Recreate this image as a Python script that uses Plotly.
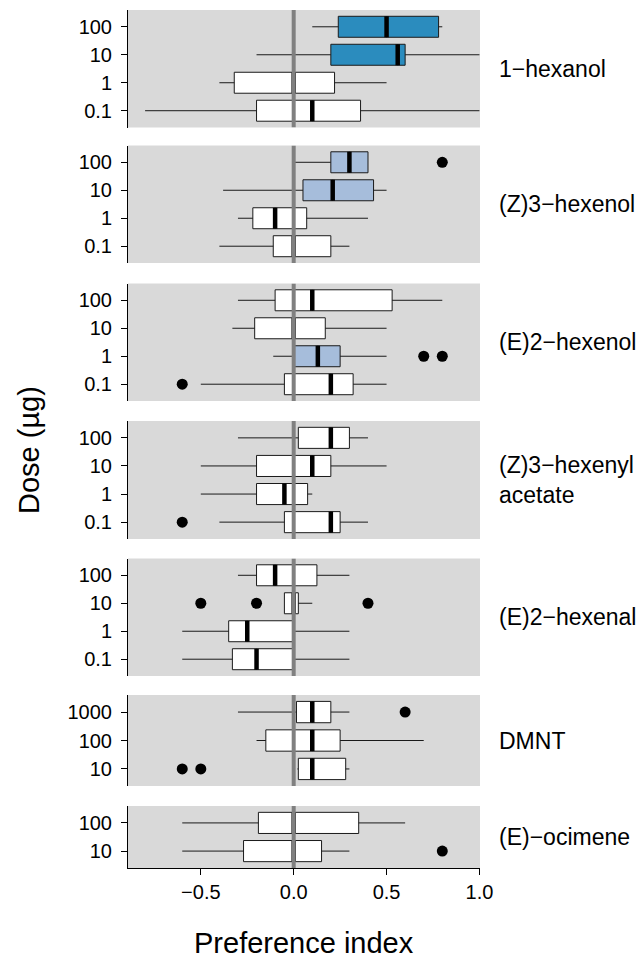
import plotly.graph_objects as go

# ---------------- data ----------------
compounds = ["1−hexanol", "(Z)3−hexenol", "(E)2−hexenol", "(Z)3−hexenyl<br>acetate",
             "(E)2−hexenal", "DMNT", "(E)−ocimene"]

# doses listed top-to-bottom as in the picture
hexanol_doses = ["100", "10", "1", "0.1"]
hexanol_lo = [0.10, -0.20, -0.40, -0.80]
hexanol_q1 = [0.24, 0.20, -0.32, -0.20]
hexanol_med = [0.50, 0.56, 0.00, 0.10]
hexanol_q3 = [0.78, 0.60, 0.22, 0.36]
hexanol_hi = [0.80, 1.00, 0.50, 1.00]
hexanol_sig = ["strong", "strong", "ns", "ns"]
hexanol_out_dose = []
hexanol_out_x = []

z3hexenol_doses = ["100", "10", "1", "0.1"]
z3hexenol_lo = [0.00, -0.38, -0.30, -0.40]
z3hexenol_q1 = [0.20, 0.05, -0.22, -0.11]
z3hexenol_med = [0.30, 0.21, -0.10, 0.00]
z3hexenol_q3 = [0.40, 0.43, 0.07, 0.20]
z3hexenol_hi = [0.40, 0.50, 0.40, 0.30]
z3hexenol_sig = ["weak", "weak", "ns", "ns"]
z3hexenol_out_dose = ["100"]
z3hexenol_out_x = [0.80]

e2hexenol_doses = ["100", "10", "1", "0.1"]
e2hexenol_lo = [-0.30, -0.33, -0.11, -0.50]
e2hexenol_q1 = [-0.10, -0.21, 0.00, -0.05]
e2hexenol_med = [0.10, 0.00, 0.13, 0.20]
e2hexenol_q3 = [0.53, 0.17, 0.25, 0.32]
e2hexenol_hi = [0.80, 0.50, 0.50, 0.50]
e2hexenol_sig = ["ns", "ns", "weak", "ns"]
e2hexenol_out_dose = ["1", "1", "0.1"]
e2hexenol_out_x = [0.70, 0.80, -0.60]

z3acetate_doses = ["100", "10", "1", "0.1"]
z3acetate_lo = [-0.30, -0.50, -0.50, -0.40]
z3acetate_q1 = [0.025, -0.20, -0.20, -0.05]
z3acetate_med = [0.20, 0.10, -0.05, 0.20]
z3acetate_q3 = [0.30, 0.20, 0.075, 0.25]
z3acetate_hi = [0.40, 0.50, 0.10, 0.40]
z3acetate_sig = ["ns", "ns", "ns", "ns"]
z3acetate_out_dose = ["0.1"]
z3acetate_out_x = [-0.60]

e2hexenal_doses = ["100", "10", "1", "0.1"]
e2hexenal_lo = [-0.30, -0.05, -0.60, -0.60]
e2hexenal_q1 = [-0.20, -0.05, -0.35, -0.33]
e2hexenal_med = [-0.10, 0.00, -0.25, -0.20]
e2hexenal_q3 = [0.125, 0.025, 0.00, 0.00]
e2hexenal_hi = [0.30, 0.10, 0.30, 0.30]
e2hexenal_sig = ["ns", "ns", "ns", "ns"]
e2hexenal_out_dose = ["10", "10", "10"]
e2hexenal_out_x = [-0.50, -0.20, 0.40]

dmnt_doses = ["1000", "100", "10"]
dmnt_lo = [-0.30, -0.20, 0.02]
dmnt_q1 = [0.015, -0.15, 0.025]
dmnt_med = [0.10, 0.10, 0.10]
dmnt_q3 = [0.20, 0.25, 0.28]
dmnt_hi = [0.30, 0.70, 0.30]
dmnt_sig = ["ns", "ns", "ns"]
dmnt_out_dose = ["1000", "10", "10"]
dmnt_out_x = [0.60, -0.60, -0.50]

ocimene_doses = ["100", "10"]
ocimene_lo = [-0.60, -0.60]
ocimene_q1 = [-0.19, -0.27]
ocimene_med = [0.00, 0.00]
ocimene_q3 = [0.35, 0.15]
ocimene_hi = [0.60, 0.30]
ocimene_sig = ["ns", "ns"]
ocimene_out_dose = ["10"]
ocimene_out_x = [0.80]

x_ticks = [-0.5, 0.0, 0.5, 1.0]
x_ticktext = ["−0.5", "0.0", "0.5", "1.0"]

# ---------------- assemble ----------------
panels = [
    (hexanol_doses, hexanol_lo, hexanol_q1, hexanol_med, hexanol_q3, hexanol_hi, hexanol_sig, hexanol_out_dose, hexanol_out_x),
    (z3hexenol_doses, z3hexenol_lo, z3hexenol_q1, z3hexenol_med, z3hexenol_q3, z3hexenol_hi, z3hexenol_sig, z3hexenol_out_dose, z3hexenol_out_x),
    (e2hexenol_doses, e2hexenol_lo, e2hexenol_q1, e2hexenol_med, e2hexenol_q3, e2hexenol_hi, e2hexenol_sig, e2hexenol_out_dose, e2hexenol_out_x),
    (z3acetate_doses, z3acetate_lo, z3acetate_q1, z3acetate_med, z3acetate_q3, z3acetate_hi, z3acetate_sig, z3acetate_out_dose, z3acetate_out_x),
    (e2hexenal_doses, e2hexenal_lo, e2hexenal_q1, e2hexenal_med, e2hexenal_q3, e2hexenal_hi, e2hexenal_sig, e2hexenal_out_dose, e2hexenal_out_x),
    (dmnt_doses, dmnt_lo, dmnt_q1, dmnt_med, dmnt_q3, dmnt_hi, dmnt_sig, dmnt_out_dose, dmnt_out_x),
    (ocimene_doses, ocimene_lo, ocimene_q1, ocimene_med, ocimene_q3, ocimene_hi, ocimene_sig, ocimene_out_dose, ocimene_out_x),
]

fill_map = {"strong": "#2B8CBE", "weak": "#A6BDDB", "ns": "#FFFFFF"}

W, H = 640, 963
ML, MR, MT, MB = 128, 160, 10, 95
plot_h = H - MT - MB
panel_px = [(10, 127.5), (145.5, 263), (283.5, 401), (421, 539),
            (558.5, 676), (695, 786), (806, 868)]


def frac(ypx):
    return (H - MB - ypx) / plot_h


FONT = "Liberation Sans, Arial, Helvetica, sans-serif"
BOXW = 0.75
fig = go.Figure()
layout_axes = {}
annotations = []

for k, (doses, lo, q1, med, q3, hi, sig, od, ox) in enumerate(panels, start=1):
    n = len(doses)
    pos = {d: n - i for i, d in enumerate(doses)}  # top gets highest position
    yref = "y" if k == 1 else f"y{k}"
    yname = "yaxis" if k == 1 else f"yaxis{k}"
    for i, d in enumerate(doses):
        fig.add_trace(go.Box(
            orientation="h", y=[pos[d]], q1=[q1[i]], median=[med[i]], q3=[q3[i]],
            lowerfence=[lo[i]], upperfence=[hi[i]],
            fillcolor=fill_map[sig[i]], line=dict(color="#1a1a1a", width=1),
            width=BOXW, whiskerwidth=0, boxpoints=False,
            xaxis="x", yaxis=yref, showlegend=False, hoverinfo="skip"))
    # thick medians
    mx, my = [], []
    for i, d in enumerate(doses):
        mx += [med[i], med[i], None]
        my += [pos[d] - BOXW / 2, pos[d] + BOXW / 2, None]
    fig.add_trace(go.Scatter(x=mx, y=my, mode="lines", line=dict(color="black", width=4.5),
                             xaxis="x", yaxis=yref, showlegend=False, hoverinfo="skip"))
    # outliers
    if ox:
        fig.add_trace(go.Scatter(x=ox, y=[pos[d] for d in od], mode="markers",
                                 marker=dict(color="black", size=11),
                                 xaxis="x", yaxis=yref, showlegend=False, hoverinfo="skip"))
    # zero reference line
    fig.add_trace(go.Scatter(x=[0, 0], y=[0.4, n + 0.6], mode="lines",
                             line=dict(color="#808080", width=4),
                             xaxis="x", yaxis=yref, showlegend=False, hoverinfo="skip"))
    top, bot = panel_px[k - 1]
    layout_axes[yname] = dict(
        domain=[frac(bot), frac(top)], anchor="x", range=[0.4, n + 0.6],
        tickvals=[pos[d] for d in doses], ticktext=doses,
        showline=True, linecolor="black", linewidth=1,
        ticks="outside", ticklen=6, tickcolor="black", tickwidth=1,
        ticklabelstandoff=5,
        tickfont=dict(family=FONT, size=20, color="black"),
        showgrid=False, zeroline=False, fixedrange=True)
    annotations.append(dict(
        text=compounds[k - 1], xref="paper", yref="paper", x=1, xshift=17,
        y=frac((top + bot) / 2), xanchor="left", yanchor="middle", align="left",
        showarrow=False, font=dict(family=FONT, size=23, color="black")))

annotations.append(dict(text="Preference index", xref="paper", yref="paper",
                        x=0.5, y=frac(943), xanchor="center", yanchor="middle",
                        showarrow=False, font=dict(family=FONT, size=29, color="black")))
annotations.append(dict(text="Dose (µg)", xref="paper", yref="paper",
                        x=(29 - ML) / (W - ML - MR), y=frac(450), textangle=-90,
                        xanchor="center", yanchor="middle",
                        showarrow=False, font=dict(family=FONT, size=29, color="black")))

fig.update_layout(
    width=W, height=H, margin=dict(l=ML, r=MR, t=MT, b=MB),
    paper_bgcolor="white", plot_bgcolor="#D9D9D9",
    boxmode="overlay", showlegend=False,
    xaxis=dict(domain=[0, 1], anchor="y7", range=[-0.892, 1.003],
               tickvals=x_ticks, ticktext=x_ticktext,
               showline=True, linecolor="black", linewidth=1,
               ticks="outside", ticklen=6, tickcolor="black",
               tickfont=dict(family=FONT, size=20, color="black"),
               showgrid=False, zeroline=False, fixedrange=True),
    annotations=annotations,
    **layout_axes)

fig.write_html("out.html", config={"displayModeBar": False},
               post_script="document.body.style.margin='0';document.body.style.padding='0';")
